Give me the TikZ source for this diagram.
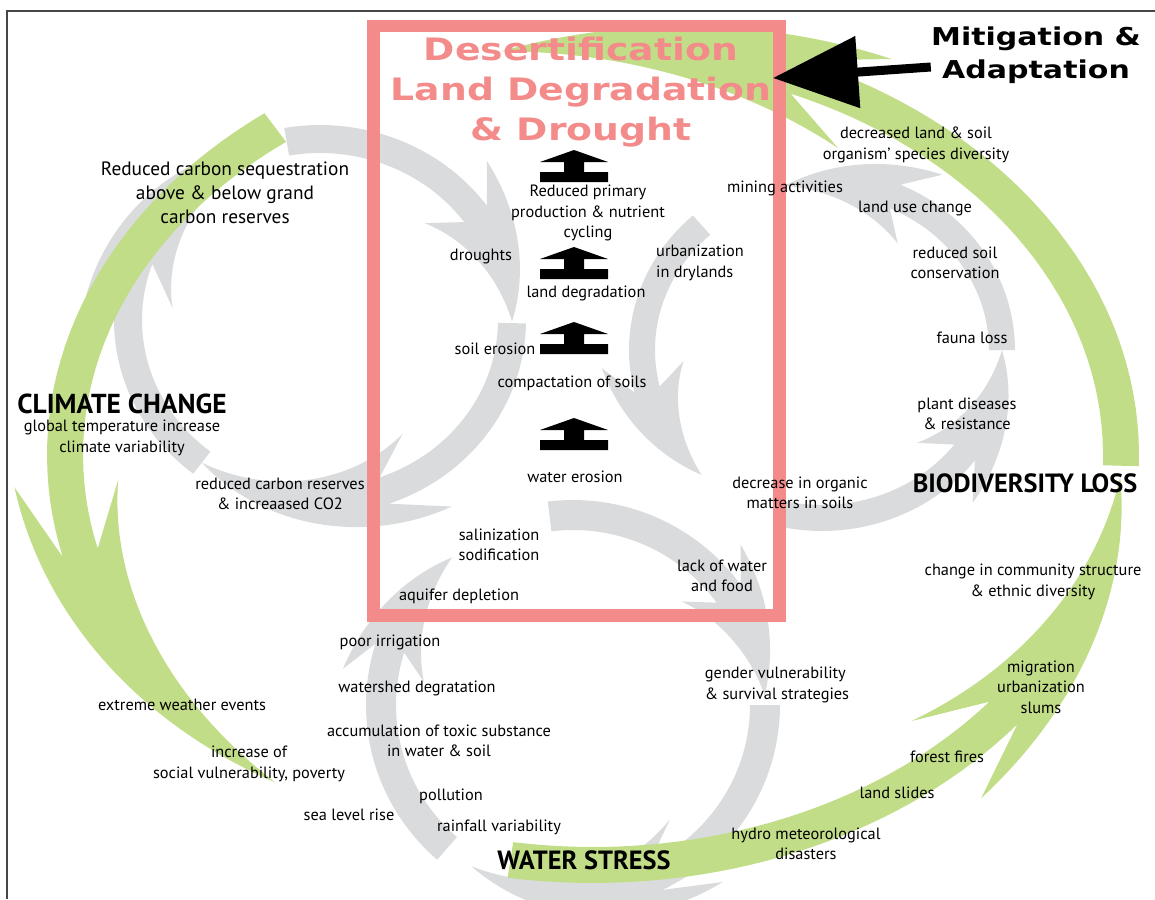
\documentclass[tikz,border=0pt]{standalone}
\usepackage{fontspec}
\setmainfont{PT Sans}
\newfontfamily\widebold{DejaVu Sans}[FakeStretch=1.22]
\usepackage{tikz}
\usetikzlibrary{%
	arrows.meta%
}
\definecolor{leafgreen}{RGB}{194,221,135}
\definecolor{cyclegray}{RGB}{218,219,221}
\definecolor{boxpink}{RGB}{244,139,139}
\definecolor{framegray}{RGB}{70,70,70}

% Curved band arrow on the ellipse (\cenx,\ceny) with radii \radx,\rady
% #1 colour, #2 half width, #3 barb size, #4 tail angle, #5 barb angle, #6 tip angle
\newcommand{\bentarrow}[6]{%
	\pgfmathsetmacro{\notchang}{#5+0.2*(#6-#5)}%
	\fill[#1] plot[domain=#4:\notchang] ({\cenx+(\radx+#2)*cos(\x)},{\ceny+(\rady+#2)*sin(\x)})
		-- ({\cenx+(\radx+#2+#3)*cos(#5)},{\ceny+(\rady+#2+#3)*sin(#5)})
		-- plot[domain=#5:#6] ({\cenx+(\radx+(#2+#3)*(#6-\x)/(#6-#5))*cos(\x)},{\ceny+(\rady+(#2+#3)*(#6-\x)/(#6-#5))*sin(\x)})
		-- plot[domain=#6:#5] ({\cenx+(\radx-(#2+#3)*(#6-\x)/(#6-#5))*cos(\x)},{\ceny+(\rady-(#2+#3)*(#6-\x)/(#6-#5))*sin(\x)})
		-- ({\cenx+(\radx-#2)*cos(\notchang)},{\ceny+(\rady-#2)*sin(\notchang)})
		-- plot[domain=\notchang:#4] ({\cenx+(\radx-#2)*cos(\x)},{\ceny+(\rady-#2)*sin(\x)})
		-- cycle;
}

\begin{document}
\begin{tikzpicture}[x=0.02cm,y=-0.02cm,samples=36,
		txt/.style={font=\fontsize{9.3}{11.7}\selectfont,align=center,inner sep=0pt},
		bigtxt/.style={font=\fontsize{11}{13.7}\selectfont,align=center,inner sep=0pt},
		hdr/.style={font=\bfseries\fontsize{15}{18}\selectfont,inner sep=0pt},
		upmark/.style={fill=black}]
	\useasboundingbox (0,0) rectangle (1155,899);
	% Frame
	\draw[framegray,line width=0.04cm] (7,899) -- (7,11) -- (1155,11);

	% Grey cycle, left
	\def\cenx{320}\def\ceny{320}\def\radx{192}\def\rady{181}
	\bentarrow{cyclegray}{14}{30}{260}{315}{360.5}
	\bentarrow{cyclegray}{14}{30}{1}{56}{128}
	\bentarrow{cyclegray}{14}{30}{128}{185}{258}
	% Grey cycle, right
	\def\cenx{822}\def\ceny{350}\def\radx{180}\def\rady{168}
	\bentarrow{cyclegray}{13}{28}{360}{303}{258}
	\bentarrow{cyclegray}{13}{28}{228}{175}{132}
	\bentarrow{cyclegray}{13}{28}{103}{47}{0}
	% Grey cycle, bottom
	\def\cenx{573}\def\ceny{705}\def\radx{192}\def\rady{190}
	\bentarrow{cyclegray}{15}{26}{263}{316}{357}
	\bentarrow{cyclegray}{15}{26}{0}{50}{122}
	\bentarrow{cyclegray}{15}{26}{131}{189}{231}
	% Green outer cycle
	\def\cenx{593}\def\ceny{455}\def\radx{528}\def\rady{410}
	\bentarrow{leafgreen}{18}{34}{233}{176}{127}
	\bentarrow{leafgreen}{18}{34}{361.5}{301}{260}
	\bentarrow{leafgreen}{18}{34}{99}{48}{3}

	% Central box
	\draw[boxpink,line width=0.26cm] (373.5,26) rectangle (779.5,615);
	\node[font=\widebold\bfseries\fontsize{17.6}{22.8}\selectfont,text=boxpink,align=center,inner sep=0pt] (title) at (581,92) {Desertification\\Land Degradation\\\& Drought};

	% Upward marks inside the box
	\foreach \ay in {150,247,322,418}
		\fill[upmark] (574,\ay) -- (608,\ay+12) -- (584,\ay+12) -- (584,\ay+22) -- (608,\ay+22) -- (608,\ay+32)
			-- (540,\ay+32) -- (540,\ay+22) -- (564,\ay+22) -- (564,\ay+12) -- (540,\ay+12) -- cycle;

	% Pointer into the box
	\node[font=\widebold\bfseries\fontsize{14}{18.8}\selectfont,align=center,inner sep=0pt] (mitig) at (1036,55) {Mitigation \&\\Adaptation};
	\coordinate (boxtip) at (773,78);
	\draw[line width=0.18cm,-{Triangle[length=1.7cm,width=1.4cm]}] ([yshift=-0.24cm]mitig.west) -- (boxtip);

	% Headings
	\node[hdr,font=\bfseries\fontsize{15.6}{18}\selectfont] (climate) at (122,404) {CLIMATE CHANGE};
	\node[hdr] (biodiv) at (1025,483) {BIODIVERSITY LOSS};
	\node[hdr] (waterstress) at (584,860) {WATER STRESS};

	% Labels, left
	\node[bigtxt] (seq) at (225,193) {Reduced carbon sequestration\\above \& below grand\\carbon reserves};
	\node[txt] (climsub) at (122,438) {global temperature increase\\climate variability};
	\node[txt] (co2) at (280,494) {reduced carbon reserves\\\& increaased CO2};
	\node[txt] (extreme) at (182,705) {extreme weather events};
	\node[txt] (poverty) at (249,764) {increase of\\social vulnerability, poverty};
	\node[txt] (sealevel) at (349,815) {sea level rise};

	% Labels, bottom
	\node[txt] (poorirr) at (390,642) {poor irrigation};
	\node[txt] (watershed) at (417,688) {watershed degratation};
	\node[txt] (toxic) at (439,741) {accumulation of toxic substance\\in water \& soil};
	\node[txt] (pollution) at (451,796) {pollution};
	\node[txt] (rainfall) at (499,827) {rainfall variability};
	\node[txt,align=left] (gender) at (777,685) {gender vulnerability\\\& survival strategies};
	\node[txt] (hydro) at (806,844) {hydro meteorological\\disasters};
	\node[txt] (landslides) at (897,793) {land slides};
	\node[txt] (forest) at (947,757) {forest fires};
	\node[txt] (migration) at (1041,687) {migration\\urbanization\\slums};

	% Labels, right
	\node[txt] (community) at (1033,582) {change in community structure\\\& ethnic diversity};
	\node[txt] (organic) at (800,493) {decrease in organic\\matters in soils};
	\node[txt] (plant) at (967,414) {plant diseases\\\& resistance};
	\node[txt] (fauna) at (972,338) {fauna loss};
	\node[txt] (soilcons) at (955,263) {reduced soil\\conservation};
	\node[txt] (landuse) at (915,209) {land use change};
	\node[txt] (mining) at (785,188) {mining activities};
	\node[txt] (species) at (916,145) {decreased land \& soil\\organism’ species diversity};

	% Labels in the box
	\node[txt,align=left] (urban) at (700,263) {urbanization\\in drylands};
	\node[txt] (primary) at (588,213) {Reduced primary\\production \& nutrient\\cycling};
	\node[txt] (droughts) at (481,257) {droughts};
	\node[txt] (landdeg) at (586,293) {land degradation};
	\node[txt] (soilero) at (495,349) {soil erosion};
	\node[txt] (compact) at (572,383) {compactation of soils};
	\node[txt] (watero) at (575,477) {water erosion};
	\node[txt] (salin) at (499,545) {salinization\\sodification};
	\node[txt] (aquifer) at (459,596) {aquifer depletion};
	\node[txt] (lackwater) at (722,576) {lack of water\\and food};
\end{tikzpicture}
\end{document}
